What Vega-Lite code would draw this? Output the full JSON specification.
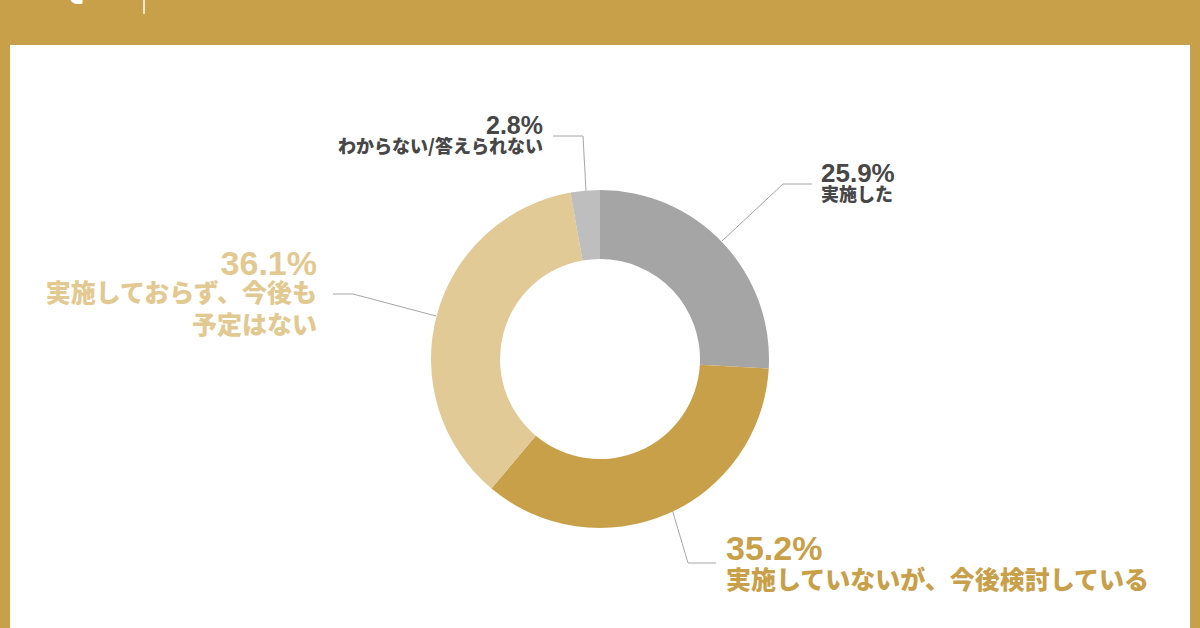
{
  "$schema": "https://vega.github.io/schema/vega-lite/v6.json",
  "width": 1200,
  "height": 628,
  "autosize": {"type": "fit", "contains": "padding"},
  "padding": 0,
  "background": "#C8A049",
  "config": {"view": {"stroke": null}, "font": "Noto Sans CJK JP"},
  "datasets": {
    "d_panel": [{"x": 10, "x2": 1190, "y": 45, "y2": 660}],
    "d_slices": [
      {"cat": "実施した", "pct": 25.9, "order": 1},
      {"cat": "実施していないが、今後検討している", "pct": 35.2, "order": 2},
      {"cat": "実施しておらず、今後も予定はない", "pct": 36.1, "order": 3},
      {"cat": "わからない/答えられない", "pct": 2.8, "order": 4}
    ],
    "d_leaders": [
      {"k": "a", "i": 1, "x": 722, "y": 241},
      {"k": "a", "i": 2, "x": 783, "y": 184},
      {"k": "a", "i": 3, "x": 812, "y": 184},
      {"k": "d", "i": 1, "x": 586, "y": 191},
      {"k": "d", "i": 2, "x": 583, "y": 136},
      {"k": "d", "i": 3, "x": 553, "y": 136},
      {"k": "c", "i": 1, "x": 436, "y": 316},
      {"k": "c", "i": 2, "x": 353, "y": 294},
      {"k": "c", "i": 3, "x": 333, "y": 294},
      {"k": "b", "i": 1, "x": 672, "y": 509},
      {"k": "b", "i": 2, "x": 688, "y": 563},
      {"k": "b", "i": 3, "x": 716, "y": 563}
    ],
    "d_labels": [
      {"grp": "dark", "kind": "pct", "side": "left", "t": "25.9%", "x": 821, "y": 174},
      {"grp": "dark", "kind": "cat", "side": "left", "t": "実施した", "x": 821, "y": 196},
      {"grp": "dark", "kind": "pct", "side": "right", "t": "2.8%", "x": 543, "y": 126},
      {"grp": "dark", "kind": "cat", "side": "right", "t": "わからない/答えられない", "x": 543, "y": 148},
      {"grp": "light", "kind": "pct", "side": "right", "t": "36.1%", "x": 317, "y": 265},
      {"grp": "light", "kind": "cat", "side": "right", "t": "実施しておらず、今後も", "x": 317, "y": 294},
      {"grp": "light", "kind": "cat", "side": "right", "t": "予定はない", "x": 317, "y": 326},
      {"grp": "gold", "kind": "pct", "side": "left", "t": "35.2%", "x": 726, "y": 550},
      {"grp": "gold", "kind": "cat", "side": "left", "t": "実施していないが、今後検討している", "x": 726, "y": 581}
    ],
    "d_top": [{"t": "Q.5", "x": 88, "y": 4}],
    "d_topline": [{"x": 144, "y": -5, "y2": 14}]
  },
  "layer": [
    {
      "data": {"name": "d_panel"},
      "mark": {"type": "rect", "fill": "#FFFFFF", "clip": true},
      "encoding": {
        "x": {"field": "x", "type": "quantitative", "scale": {"domain": [0, 1200], "nice": false, "zero": false}, "axis": null},
        "x2": {"field": "x2"},
        "y": {"field": "y", "type": "quantitative", "scale": {"domain": [0, 628], "nice": false, "zero": false, "reverse": true}, "axis": null},
        "y2": {"field": "y2"}
      }
    },
    {
      "data": {"name": "d_top"},
      "mark": {"type": "text", "color": "#FFFFFF", "fontSize": 40, "fontWeight": "bold", "baseline": "bottom", "align": "center", "clip": true, "font": "Liberation Sans"},
      "encoding": {
        "x": {"field": "x", "type": "quantitative", "axis": null},
        "y": {"field": "y", "type": "quantitative", "axis": null},
        "text": {"field": "t", "type": "nominal"}
      }
    },
    {
      "data": {"name": "d_topline"},
      "mark": {"type": "rule", "color": "#FFFFFF", "strokeWidth": 1.5, "clip": true},
      "encoding": {
        "x": {"field": "x", "type": "quantitative", "axis": null},
        "y": {"field": "y", "type": "quantitative", "axis": null},
        "y2": {"field": "y2"}
      }
    },
    {
      "data": {"name": "d_leaders"},
      "mark": {"type": "line", "color": "#A6A6A6", "strokeWidth": 1},
      "encoding": {
        "x": {"field": "x", "type": "quantitative", "axis": null},
        "y": {"field": "y", "type": "quantitative", "axis": null},
        "detail": {"field": "k", "type": "nominal"},
        "order": {"field": "i", "type": "quantitative"}
      }
    },
    {
      "data": {"name": "d_slices"},
      "mark": {"type": "arc", "outerRadius": 169, "innerRadius": 100, "yOffset": 45},
      "encoding": {
        "theta": {"field": "pct", "type": "quantitative", "stack": true},
        "order": {"field": "order", "type": "quantitative"},
        "color": {
          "field": "cat",
          "type": "nominal",
          "scale": {
            "domain": ["実施した", "実施していないが、今後検討している", "実施しておらず、今後も予定はない", "わからない/答えられない"],
            "range": ["#A5A5A5", "#C8A049", "#E2CA97", "#BEBEBE"]
          },
          "legend": null
        }
      }
    },
    {
      "data": {"name": "d_labels"},
      "transform": [{"filter": "datum.grp == 'dark' && datum.kind == 'pct' && datum.side == 'left'"}],
      "mark": {"type": "text", "fontSize": 26, "fontWeight": "bold", "color": "#474747", "baseline": "middle", "align": "left", "font": "Liberation Sans"},
      "encoding": {
        "x": {"field": "x", "type": "quantitative", "axis": null},
        "y": {"field": "y", "type": "quantitative", "axis": null},
        "text": {"field": "t", "type": "nominal"}
      }
    },
    {
      "data": {"name": "d_labels"},
      "transform": [{"filter": "datum.grp == 'dark' && datum.kind == 'pct' && datum.side == 'right'"}],
      "mark": {"type": "text", "fontSize": 25, "fontWeight": "bold", "color": "#474747", "baseline": "middle", "align": "right", "font": "Liberation Sans"},
      "encoding": {
        "x": {"field": "x", "type": "quantitative", "axis": null},
        "y": {"field": "y", "type": "quantitative", "axis": null},
        "text": {"field": "t", "type": "nominal"}
      }
    },
    {
      "data": {"name": "d_labels"},
      "transform": [{"filter": "datum.grp == 'dark' && datum.kind == 'cat' && datum.side == 'left'"}],
      "mark": {"type": "text", "fontSize": 18, "fontWeight": 900, "color": "#474747", "baseline": "middle", "align": "left"},
      "encoding": {
        "x": {"field": "x", "type": "quantitative", "axis": null},
        "y": {"field": "y", "type": "quantitative", "axis": null},
        "text": {"field": "t", "type": "nominal"}
      }
    },
    {
      "data": {"name": "d_labels"},
      "transform": [{"filter": "datum.grp == 'dark' && datum.kind == 'cat' && datum.side == 'right'"}],
      "mark": {"type": "text", "fontSize": 18, "fontWeight": 900, "color": "#474747", "baseline": "middle", "align": "right"},
      "encoding": {
        "x": {"field": "x", "type": "quantitative", "axis": null},
        "y": {"field": "y", "type": "quantitative", "axis": null},
        "text": {"field": "t", "type": "nominal"}
      }
    },
    {
      "data": {"name": "d_labels"},
      "transform": [{"filter": "datum.grp == 'light' && datum.kind == 'pct'"}],
      "mark": {"type": "text", "fontSize": 34, "fontWeight": "bold", "color": "#E2C992", "baseline": "middle", "align": "right", "font": "Liberation Sans"},
      "encoding": {
        "x": {"field": "x", "type": "quantitative", "axis": null},
        "y": {"field": "y", "type": "quantitative", "axis": null},
        "text": {"field": "t", "type": "nominal"}
      }
    },
    {
      "data": {"name": "d_labels"},
      "transform": [{"filter": "datum.grp == 'light' && datum.kind == 'cat'"}],
      "mark": {"type": "text", "fontSize": 25, "fontWeight": 900, "color": "#E2C992", "baseline": "middle", "align": "right"},
      "encoding": {
        "x": {"field": "x", "type": "quantitative", "axis": null},
        "y": {"field": "y", "type": "quantitative", "axis": null},
        "text": {"field": "t", "type": "nominal"}
      }
    },
    {
      "data": {"name": "d_labels"},
      "transform": [{"filter": "datum.grp == 'gold' && datum.kind == 'pct'"}],
      "mark": {"type": "text", "fontSize": 34, "fontWeight": "bold", "color": "#C8A049", "baseline": "middle", "align": "left", "font": "Liberation Sans"},
      "encoding": {
        "x": {"field": "x", "type": "quantitative", "axis": null},
        "y": {"field": "y", "type": "quantitative", "axis": null},
        "text": {"field": "t", "type": "nominal"}
      }
    },
    {
      "data": {"name": "d_labels"},
      "transform": [{"filter": "datum.grp == 'gold' && datum.kind == 'cat'"}],
      "mark": {"type": "text", "fontSize": 25, "fontWeight": 900, "color": "#C8A049", "baseline": "middle", "align": "left"},
      "encoding": {
        "x": {"field": "x", "type": "quantitative", "axis": null},
        "y": {"field": "y", "type": "quantitative", "axis": null},
        "text": {"field": "t", "type": "nominal"}
      }
    }
  ]
}
